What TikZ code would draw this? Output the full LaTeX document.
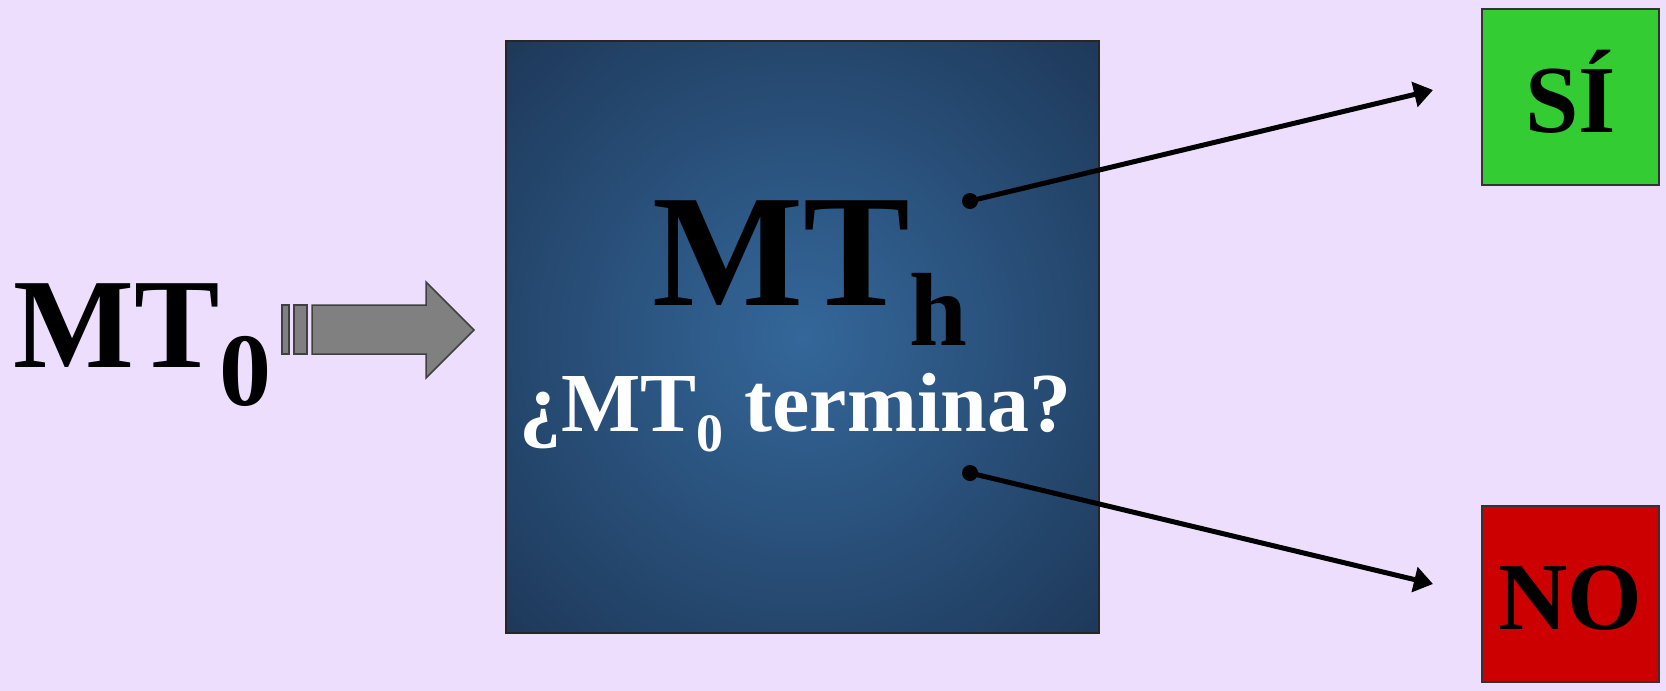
\documentclass[tikz,border=0pt]{standalone}
\usepackage{fontspec}
\setmainfont{Liberation Serif}
\usetikzlibrary{positioning,arrows.meta,calc}
\definecolor{Lavender}{RGB}{237,222,253}
\definecolor{HaltCore}{RGB}{52,103,154}
\definecolor{HaltEdge}{RGB}{30,57,90}
\definecolor{YesGreen}{RGB}{51,204,51}
\definecolor{NoRed}{RGB}{204,0,0}
\definecolor{BlockGray}{RGB}{128,128,128}
\pgfdeclareradialshading{haltglow}{\pgfpoint{0bp}{0bp}}{color(0bp)=(HaltCore); color(35bp)=(HaltEdge); color(50bp)=(HaltEdge)}
\tikzset{
  flow/.style={-{Triangle[length=19pt,width=25pt]},line width=5pt,draw=black},
  port/.style={circle,fill=black,inner sep=0pt,minimum size=16pt},
  answerbox/.style={draw=black!80,line width=2pt,minimum width=177pt,minimum height=176pt,
    inner sep=0pt,text height=71pt,text depth=0pt,font=\bfseries\fontsize{96}{96}\selectfont},
  haltbox/.style={draw=black!85,line width=2pt,minimum width=593pt,minimum height=592pt,
    shading=haltglow},
  bigtext/.style={inner sep=0pt,anchor=base west},
  blockarrow/.style={fill=BlockGray,draw=black!75,line width=1.5pt}
}

\begin{document}
\begin{tikzpicture}[x=1pt,y=-1pt]
  \fill[Lavender,use as bounding box] (0,0) rectangle (1666,691);

  % input machine and its block arrow
  \node[bigtext] (input) at (13,367)
    {\bfseries\fontsize{128}{128}\selectfont MT\raisebox{-38pt}{\fontsize{104}{104}\selectfont 0}};
  \draw[blockarrow] (282,305) rectangle (289,354);
  \draw[blockarrow] (294,305) rectangle (307,354);
  \draw[blockarrow] (312,305) -- (426,305) -- (426,282) -- (474,330)
    -- (426,378) -- (426,354) -- (312,354) -- cycle;

  % halting machine
  \node[haltbox] (halt) at (802.5,337) {};
  \node[bigtext] (haltname) at (652,305)
    {\bfseries\fontsize{160}{160}\selectfont MT\raisebox{-40pt}{\fontsize{104}{104}\selectfont h}};
  \node[bigtext,text=white] (question) at (519,431)
    {\bfseries\fontsize{84}{84}\selectfont ¿MT\raisebox{-20pt}{\fontsize{54}{54}\selectfont 0} termina?};

  % answers
  \node[answerbox,fill=YesGreen] (yes) at (1570.5,97) {SÍ};
  \node[answerbox,fill=NoRed] (no) at (1570.5,593.5) {NO};

  \node[port] (yesport) at (970,201) {};
  \node[port] (noport) at (970,473) {};
  \coordinate (yesend) at ($(yes.west)+(-48,-7)$);
  \coordinate (noend) at ($(no.west)+(-48,-9.5)$);
  \draw[flow] (yesport.center) -- (yesend);
  \draw[flow] (noport.center) -- (noend);
\end{tikzpicture}
\end{document}
